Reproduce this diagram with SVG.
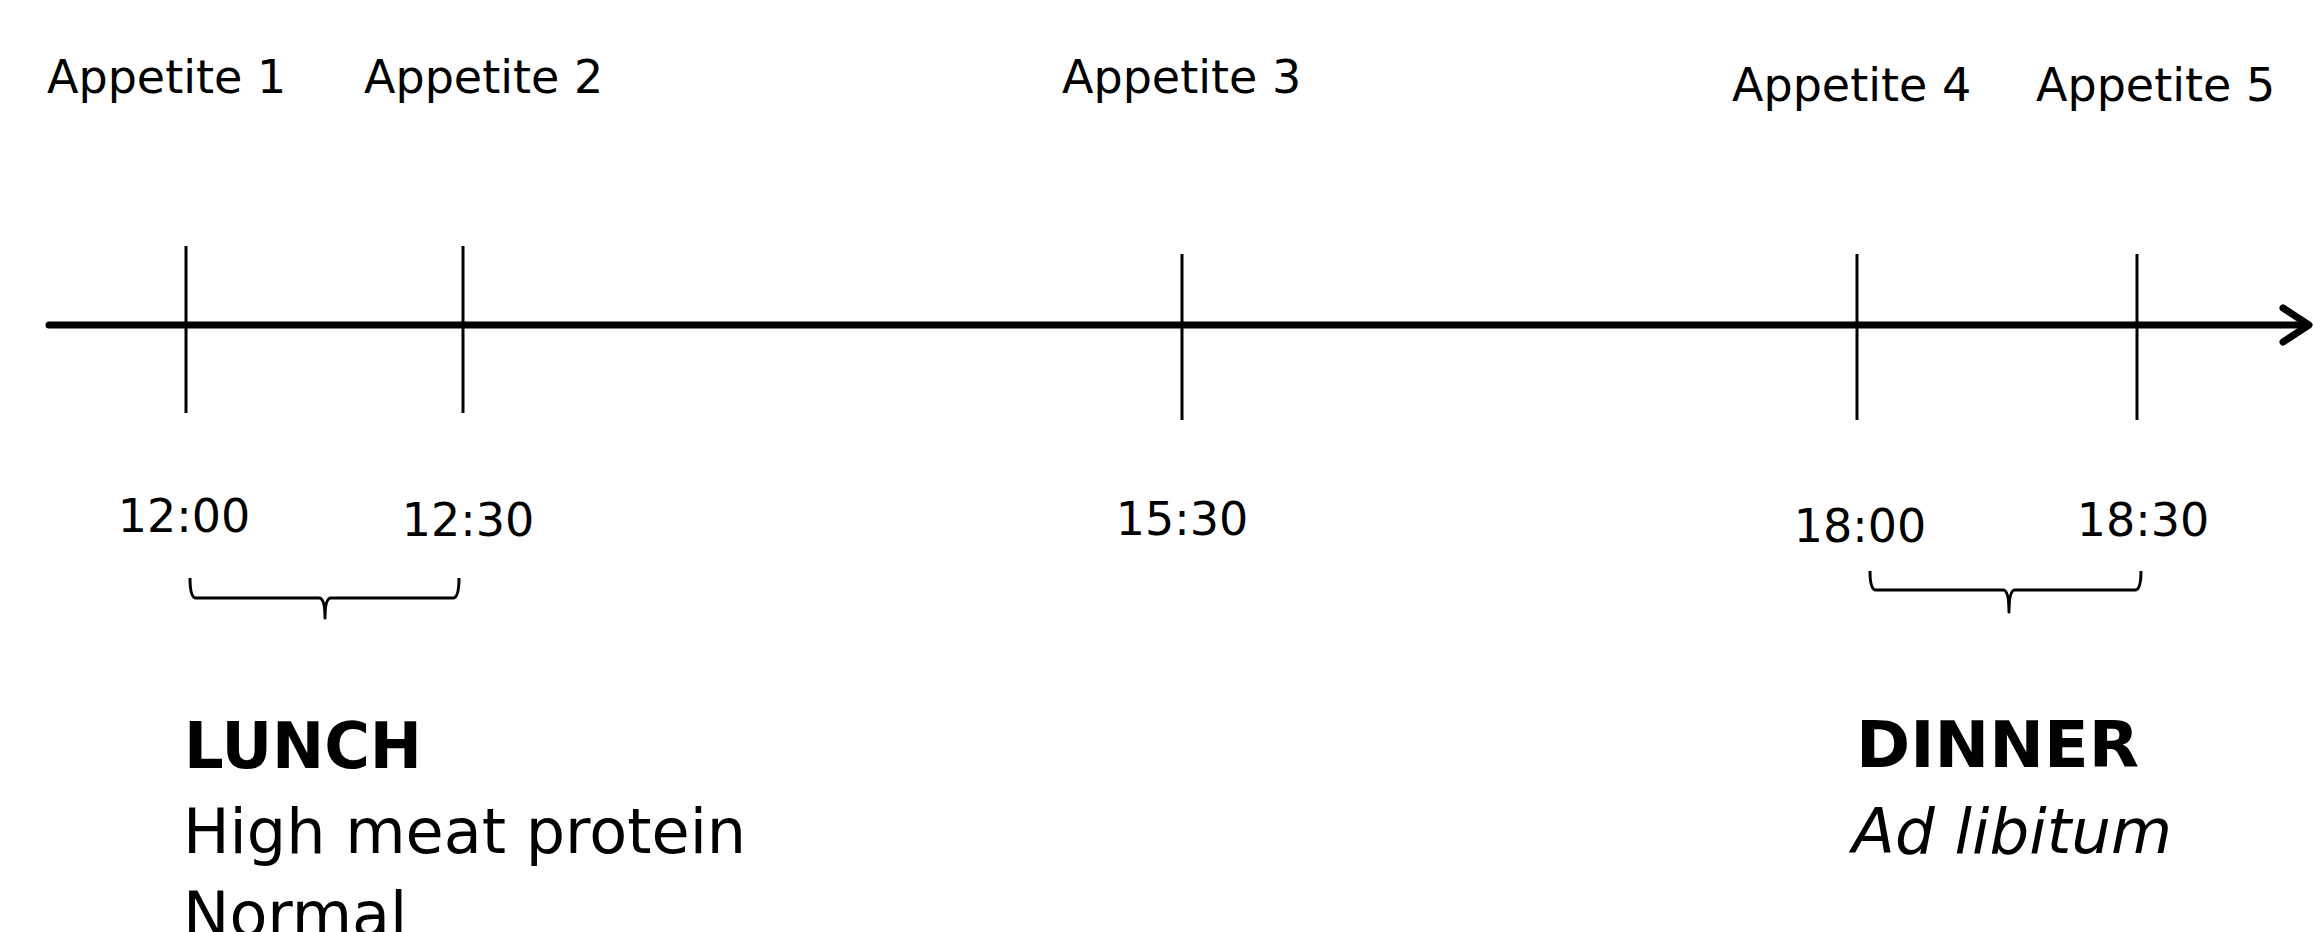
<svg xmlns="http://www.w3.org/2000/svg" width="2313" height="932" viewBox="0 0 2313 932">
<style>
text{font-family:"DejaVu Sans","Verdana",sans-serif;fill:#000}
.top{font-size:46px}
.time{font-size:46px;text-anchor:middle}
.head{font-size:64px;font-weight:bold}
.body{font-size:62px}
.tick{stroke:#000;stroke-width:3;fill:none}
.brace{stroke:#000;stroke-width:3;fill:none;stroke-linejoin:round}
.axis{stroke:#000;stroke-width:7;fill:none;stroke-linecap:round;stroke-linejoin:round}
</style>
<rect width="2313" height="932" fill="#fff"/>
<g id="connectors">
<line class="axis" x1="49" y1="325" x2="2306" y2="325"/>
<polyline class="axis" points="2283,308 2309,325 2283,342"/>
</g>
<g id="tick1"><line class="tick" x1="186" y1="246" x2="186" y2="413"/><text class="top" x="47" y="93">Appetite 1</text><text class="time" x="184" y="532">12:00</text></g>
<g id="tick2"><line class="tick" x1="463" y1="246" x2="463" y2="413"/><text class="top" x="364" y="93">Appetite 2</text><text class="time" x="468" y="536">12:30</text></g>
<g id="tick3"><line class="tick" x1="1182" y1="254" x2="1182" y2="420"/><text class="top" x="1062" y="93">Appetite 3</text><text class="time" x="1182" y="535">15:30</text></g>
<g id="tick4"><line class="tick" x1="1857" y1="254" x2="1857" y2="420"/><text class="top" x="1732" y="101">Appetite 4</text><text class="time" x="1860" y="542">18:00</text></g>
<g id="tick5"><line class="tick" x1="2137" y1="254" x2="2137" y2="420"/><text class="top" x="2036" y="101">Appetite 5</text><text class="time" x="2143" y="536">18:30</text></g>
<g id="lunch">
<path class="brace" d="M190,578 Q190,598 196,598 L319,598 Q325,598 325,618 Q325,598 331,598 L453,598 Q459,598 459,578"/>
<text class="head" x="184" y="768" textLength="238" lengthAdjust="spacingAndGlyphs">LUNCH</text>
<text class="body" x="183" y="853">High meat protein</text>
<text class="body" x="183" y="936">Normal</text>
</g>
<g id="dinner">
<path class="brace" d="M1870,571 Q1870,590 1876,590 L2003,590 Q2009,590 2009,612 Q2009,590 2015,590 L2135,590 Q2141,590 2141,571"/>
<text class="head" x="1856" y="767" textLength="283" lengthAdjust="spacingAndGlyphs">DINNER</text>
<text class="body" x="1852" y="853" font-style="italic" textLength="320" lengthAdjust="spacingAndGlyphs">Ad libitum</text>
</g>
</svg>
